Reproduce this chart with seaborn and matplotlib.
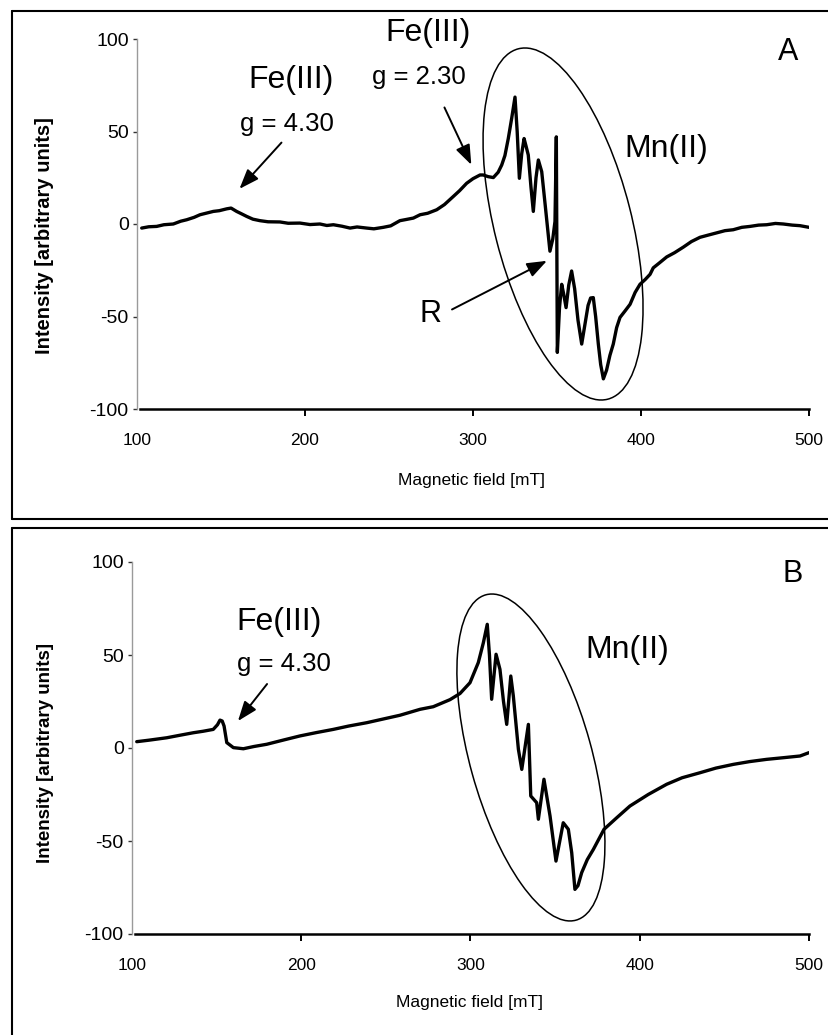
import seaborn as sns
import matplotlib.pyplot as plt
import matplotlib.transforms as mtransforms
from matplotlib.patches import Ellipse
from matplotlib.lines import Line2D

# ---- data ----
field_a = [102.8, 107, 111.7, 116, 121.6, 126, 129.6, 134, 137.5, 141,
           145.4, 149, 153.4, 156, 159.3, 162, 165.3, 169, 173.2, 178,
           185.1, 190, 197, 203, 208.9, 213, 216.9, 222, 226.8, 231,
           236.7, 241, 246.6, 251, 256.5, 260, 264.5, 268.5, 273, 278.4,
           283, 288.3, 292, 296.2, 300, 304.2, 306.1, 309, 312.1, 315,
           317.1, 319, 321, 323, 325, 326.3, 327.6, 329, 330.4, 331.6,
           332.9, 334.5, 335.9, 337.5, 338.9, 340.9, 343, 345.8, 347.5, 348.8,
           349.6, 350.2, 351.5, 352.8, 354, 355.4, 357, 358.7, 360.5, 362.5,
           364.7, 366.5, 368.5, 370, 371.6, 373, 374.6, 376, 377.6, 379.5,
           381.5, 383.5, 385.5, 387.5, 390.5, 393.5, 396.5, 399.4, 402.5, 405.4,
           407.3, 411, 415.3, 420, 425.2, 430, 435.1, 440, 445, 450,
           454.9, 460, 464.9, 470, 474.8, 480, 484.7, 490, 494.6, 500]
intensity_a = [-2.2, -1.5, -1.3, -0.4, 0, 1.5, 2.3, 3.6, 5, 5.8,
               6.8, 7.2, 8.2, 8.6, 6.8, 5.6, 4.1, 2.6, 1.8, 1.2,
               1.1, 0.4, 0.5, -0.3, 0, -0.8, -0.4, -1.2, -2.2, -1.6,
               -2.2, -2.6, -1.8, -1.0, 1.8, 2.4, 3.2, 5, 5.8, 7.7,
               10.5, 14.9, 18, 22, 24.5, 26.5, 26.5, 25.6, 25.1, 28,
               31.9, 37, 46.2, 57, 68.6, 50, 24.7, 38, 46.2, 42,
               37.3, 20, 6.8, 25, 34.6, 28.3, 10, -14.7, -8, 1.4,
               47.1, -69.4, -45, -32.6, -38, -45.2, -33, -25.4, -35, -52,
               -64.9, -55, -44, -40, -39.8, -50, -64.9, -76, -83.7, -79,
               -71, -64.9, -56, -50.5, -47, -43.4, -37, -32.6, -30, -27.2,
               -23.7, -21, -17.8, -15.5, -12.5, -9.5, -7.2, -6, -4.8, -3.6,
               -3.1, -1.8, -1.3, -0.6, -0.4, 0.3, 0, -0.6, -0.9, -1.8]

field_b = [102.8, 110, 120.5, 128, 136.2, 142, 148, 150.5, 152, 153.3,
           154.4, 156, 159.9, 165.8, 172, 179.6, 190, 199.3, 209, 218.9,
           228, 238.7, 248, 258.3, 270.2, 278, 287.9, 293.8, 299.7, 304.6,
           307.6, 309.9, 311.2, 312.5, 315.1, 317.4, 319.5, 321.4, 323.8, 325.3,
           328.3, 330.3, 334.2, 335.6, 339.1, 340.1, 343.4, 347, 350.5, 354.8,
           357.8, 359.8, 361.7, 363.5, 365.7, 369, 372.6, 378.9, 386.4, 394.2,
           405, 415.9, 425, 435.6, 445, 455.3, 465, 475, 485, 494.7, 500]
intensity_b = [3.4, 4.2, 5.5, 6.8, 8.2, 9, 10, 12.5, 15, 14.5,
               11.8, 2.9, 0.2, -0.4, 0.8, 2, 4.4, 6.5, 8.3, 10,
               11.8, 13.6, 15.5, 17.6, 20.8, 22.2, 26, 29.3, 35.1, 45.9,
               56.6, 66.5, 50, 26.2, 50.4, 42.3, 25, 12.7, 38.7, 28,
               -0.7, -11.5, 12.7, -25.8, -29.4, -38.3, -16.8, -36.6, -60.8, -40.2,
               -43.7, -56.3, -76, -74, -67, -60, -54.5, -43.7, -37.5, -31.2,
               -25, -19.5, -16, -13.3, -10.8, -8.8, -7.3, -6.1, -5.2, -4.3, -2.5]

x_ticks = [100, 200, 300, 400, 500]
y_ticks = [-100, -50, 0, 50, 100]

sns.set_style("white")
plt.rcParams['font.family'] = ['Liberation Sans', 'DejaVu Sans']
plt.rcParams['axes.unicode_minus'] = False
plt.rcParams['text.color'] = 'black'
plt.rcParams['axes.labelcolor'] = 'black'

W, H = 829, 1035
fig = plt.figure(figsize=(W / 100, H / 100), dpi=100)
ax_a = fig.add_axes([137 / W, 1 - 409 / H, 672 / W, 370 / H])
ax_b = fig.add_axes([132 / W, 1 - 934 / H, 677 / W, 372 / H])


def style_axes(ax, ylab_x, ylab_y, xlab_y, ylab_size):
    ax.set_xlim(100, 500)
    ax.set_ylim(-100, 100)
    ax.set_xticks(x_ticks)
    ax.set_yticks(y_ticks)
    for s in ["top", "right"]:
        ax.spines[s].set_visible(False)
    ax.spines["left"].set_color("#9a9a9a")
    ax.spines["left"].set_linewidth(1)
    ax.spines["bottom"].set_color("black")
    ax.spines["bottom"].set_linewidth(1.8)
    ax.spines["bottom"].set_bounds(102, 500)
    ax.tick_params(axis="y", direction="out", length=3, width=1,
                   color="#333333", labelcolor="black", labelsize=14,
                   pad=3, left=True)
    ax.tick_params(axis="x", direction="out", length=5, width=1.4,
                   color="black", labelcolor="black", labelsize=12.5,
                   pad=12, bottom=True)
    ax.xaxis.get_major_ticks()[0].tick1line.set_visible(False)
    ax.set_xlabel("Magnetic field [mT]", fontsize=12.5)
    ax.xaxis.set_label_coords(0.498, xlab_y)
    ax.set_ylabel("Intensity [arbitrary units]", fontsize=ylab_size,
                  fontweight="bold")
    ax.yaxis.set_label_coords(ylab_x, ylab_y)


def arrow(ax, start, end):
    ax.annotate("", xy=end, xytext=start,
                arrowprops=dict(arrowstyle="-|>,head_length=1.2,head_width=0.45",
                                color="black", lw=1.4, shrinkA=0, shrinkB=0),
                annotation_clip=False)


def ring(ax, center, width, height, angle):
    tr = fig.dpi_scale_trans + mtransforms.ScaledTranslation(
        center[0], center[1], ax.transData)
    ax.add_patch(Ellipse((0, 0), width, height, angle=angle, transform=tr,
                         fill=False, ec="black", lw=1.1, clip_on=False))


big = 23
letter = 22
mid = 18.5

# ---- panel A ----
sns.lineplot(x=field_a, y=intensity_a, ax=ax_a, color="black", lw=2.4,
             sort=False, estimator=None)
style_axes(ax_a, -0.124, 0.468, -0.173, 14.5)
ax_a.text(192, 77.6, "Fe(III)", fontsize=big, ha="center", va="center")
ax_a.text(189, 53.8, "g = 4.30", fontsize=mid, ha="center", va="center")
arrow(ax_a, (186, 44), (161, 19))
ax_a.text(273.5, 103.5, "Fe(III)", fontsize=big, ha="center", va="center")
ax_a.text(267.6, 79.6, "g = 2.30", fontsize=mid, ha="center", va="center")
arrow(ax_a, (283, 63), (299, 32))
ax_a.text(487.5, 93, "A", fontsize=letter, ha="center", va="center")
ax_a.text(415, 40.3, "Mn(II)", fontsize=big, ha="center", va="center")
ax_a.text(275, -48.4, "R", fontsize=letter, ha="center", va="center")
arrow(ax_a, (287.5, -46.2), (344, -19.9))
ring(ax_a, (353.6, 0), 3.616, 1.37, -75.7)

# ---- panel B ----
sns.lineplot(x=field_b, y=intensity_b, ax=ax_b, color="black", lw=2.4,
             sort=False, estimator=None)
style_axes(ax_b, -0.115, 0.487, -0.164, 13.5)
ax_b.text(187, 67.7, "Fe(III)", fontsize=big, ha="center", va="center")
ax_b.text(189.8, 45.4, "g = 4.30", fontsize=mid, ha="center", va="center")
arrow(ax_b, (179.8, 34.4), (162.6, 14.5))
ax_b.text(392.8, 52.7, "Mn(II)", fontsize=big, ha="center", va="center")
ax_b.text(490.5, 93.5, "B", fontsize=letter, ha="center", va="center")
ring(ax_b, (335.7, -5.1), 3.376, 1.218, -74.5)

# ---- panel frames ----
def fline(x0, y0, x1, y1):
    fig.add_artist(Line2D([x0 / W, x1 / W], [1 - y0 / H, 1 - y1 / H],
                          transform=fig.transFigure, color="black", lw=1.5))

fline(12, 11, W + 2, 11)
fline(12, 11, 12, 519)
fline(12, 519, W + 2, 519)
fline(12, 528, W + 2, 528)
fline(12, 528, 12, H + 2)

fig.savefig("out.png", dpi=100)
